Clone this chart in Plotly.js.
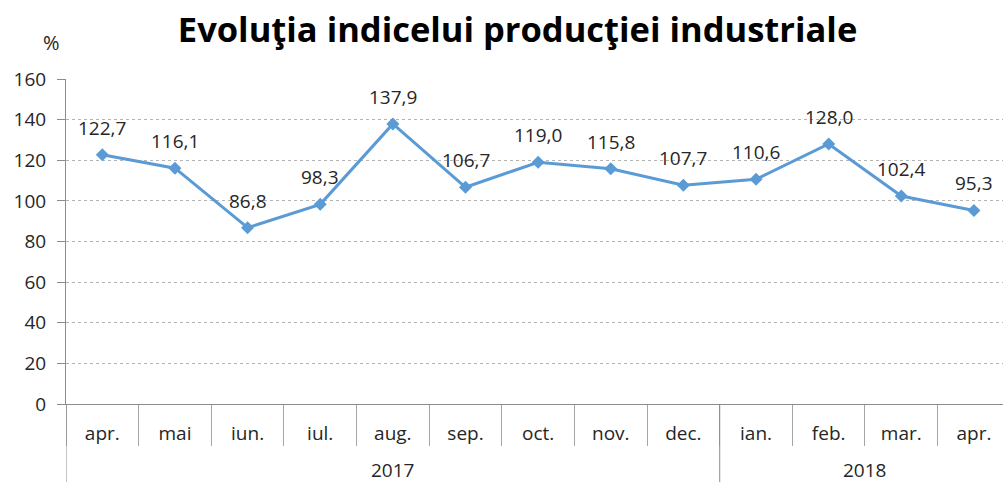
<!DOCTYPE html>
<html><head><meta charset="utf-8">
<script src="https://cdn.plot.ly/plotly-3.0.1.min.js"></script>
<style>html,body{margin:0;padding:0;background:#fff}#chart{width:1003px;height:482px}</style>
</head><body><div id="chart"></div>
<script>
const years = ["2017","2017","2017","2017","2017","2017","2017","2017","2017","2018","2018","2018","2018"];
const months = ["apr.","mai","iun.","iul.","aug.","sep.","oct.","nov.","dec.","ian.","feb.","mar.","apr."];
const values = [122.7,116.1,86.8,98.3,137.9,106.7,119.0,115.8,107.7,110.6,128.0,102.4,95.3];
const labels = values.map(v => v.toFixed(1).replace('.', ','));
const idx = months.map((m, i) => i);

const lineColor = '#5B9BD5';
const font = '"Open Sans", sans-serif';
const txtColor = '#262626';
const axisColor = '#8c8c8c';

const trace = {
  x: idx,
  y: values,
  type: 'scatter',
  mode: 'lines+markers',
  line: {color: lineColor, width: 3},
  marker: {symbol: 'diamond', size: 10, color: lineColor},
  hoverinfo: 'skip'
};

const annotations = values.map((v, i) => ({
  x: i, y: v, xref: 'x', yref: 'y',
  text: labels[i], showarrow: false,
  yshift: 27, font: {family: font, size: 19, color: txtColor}
}));
annotations.push({
  xref: 'paper', yref: 'paper', x: -0.016, y: 1.111, xanchor: 'center', yanchor: 'middle',
  text: '%', showarrow: false, font: {family: font, size: 20, color: txtColor}
});

// year groups: label centred under each group, divider at the group's left boundary
const groups = [];
years.forEach((y, i) => {
  if (!groups.length || groups[groups.length - 1].year !== y) groups.push({year: y, start: i, end: i});
  else groups[groups.length - 1].end = i;
});
const shapes = [];
groups.forEach(g => {
  annotations.push({
    x: (g.start + g.end) / 2, xref: 'x', y: -0.203, yref: 'paper',
    text: g.year, showarrow: false, yanchor: 'middle',
    font: {family: font, size: 19, color: txtColor}
  });
  shapes.push({
    type: 'line', xref: 'x', yref: 'paper', x0: g.start - 0.5, x1: g.start - 0.5, y0: 0, y1: -0.245,
    line: {color: axisColor, width: 1}
  });
});

const layout = {
  width: 1003, height: 482,
  margin: {l: 66, r: 0, t: 79, b: 78},
  paper_bgcolor: '#fff', plot_bgcolor: '#fff',
  showlegend: false,
  title: {text: '<b>Evoluţia indicelui producţiei industriale</b>', x: 0.516, xanchor: 'center', y: 0.938, yanchor: 'middle',
          font: {family: font, size: 34.5, color: '#000'}},
  xaxis: {
    range: [-0.5, 12.4],
    tickmode: 'array', tickvals: idx, ticktext: months,
    showline: true, linecolor: axisColor, linewidth: 1,
    ticks: '', ticklabelstandoff: 12,
    minor: {tickmode: 'linear', tick0: -0.5, dtick: 1, ticks: 'outside', ticklen: 41, tickcolor: '#a6a6a6', tickwidth: 1, showgrid: false},
    tickfont: {family: font, size: 19, color: txtColor},
    showgrid: false, zeroline: false, fixedrange: true
  },
  yaxis: {
    range: [0, 160], dtick: 20, tick0: 0,
    showline: true, linecolor: axisColor, linewidth: 1,
    ticks: 'outside', ticklen: 8, tickcolor: axisColor,
    ticklabelstandoff: 7,
    showgrid: true, gridcolor: '#b4b4b4', griddash: 'dot', gridwidth: 1,
    zeroline: false,
    tickfont: {family: font, size: 19, color: txtColor},
    fixedrange: true
  },
  shapes: shapes,
  annotations: annotations
};

Plotly.newPlot('chart', [trace], layout, {displayModeBar: false, staticPlot: true});
</script>
</body></html>
